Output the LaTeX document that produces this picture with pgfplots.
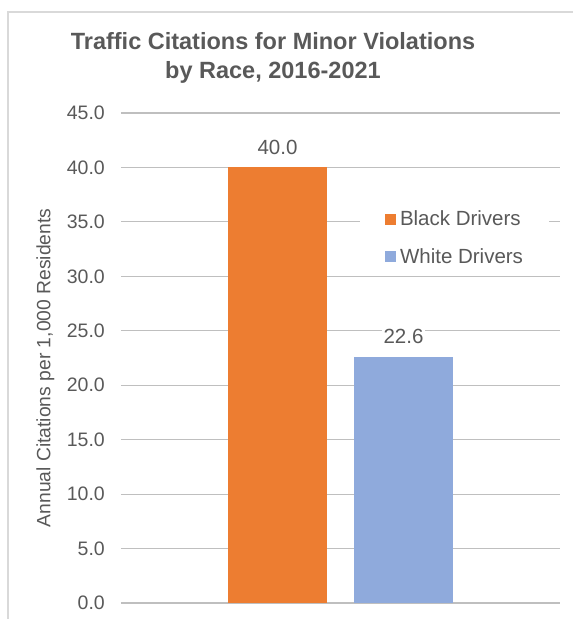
\documentclass[border=0pt]{standalone}
\usepackage{fontspec}
\setmainfont{Liberation Sans}
\usepackage{pgfplots}
\pgfplotsset{compat=1.18}
\definecolor{txt}{HTML}{595959}
\definecolor{grid}{HTML}{D9D9D9}
\definecolor{blackdr}{HTML}{ED7D31}
\definecolor{whitedr}{HTML}{8FAADC}
\begin{document}
\begin{tikzpicture}[x=1pt,y=1pt]
% page = reference image, 1pt per pixel; axis origin at pixel (121,603)
\useasboundingbox (-121,-16) rectangle (452,603);
\draw[grid, line width=1.2pt] (-113,-40) rectangle (470,591);
\begin{axis}[
  at={(0,0)}, anchor=south west,
  scale only axis,
  width=439pt, height=490pt,
  xmin=-1, xmax=1,
  ymin=0, ymax=45,
  ytick={0,5,...,45},
  xtick=\empty,
  axis line style={draw=none},
  ymajorgrids,
  grid style={grid, line width=1.2pt},
  major tick length=0pt,
  tick label style={font=\fontsize{19.5}{22}\selectfont, text=txt},
  yticklabel style={inner sep=0pt, xshift=-16pt,
    /pgf/number format/.cd, fixed, fixed zerofill, precision=1},
  /pgf/number format/assume math mode=true,
  ylabel={Annual Citations per 1,000 Residents},
  every axis y label/.style={at={(axis description cs:-0.172,0.48)},
    rotate=90, anchor=center,
    font=\fontsize{19.3}{22}\selectfont, text=txt},
  title={Traffic Citations for Minor Violations\\by Race, 2016-2021},
  title style={font=\bfseries\fontsize{23.5}{29}\selectfont, text=txt,
    align=center, at={(axis description cs:0.3462,1)}, anchor=north,
    inner sep=0pt, yshift=75pt},
  ybar=27pt,
  bar width=99pt,
  nodes near coords,
  nodes near coords style={font=\fontsize{20.5}{24}\selectfont, text=txt,
    fill=white, inner sep=2pt, anchor=south, yshift=11pt,
    /pgf/number format/.cd, fixed, fixed zerofill, precision=1,
    assume math mode=true},
  legend style={at={(axis description cs:0.544,0.815)}, anchor=north west,
    draw=none, fill=white, font=\fontsize{20.5}{24}\selectfont,
    text=txt, row sep=19pt, column sep=3pt, inner xsep=25pt, inner ysep=6pt,
    nodes={inner sep=1pt}},
  legend image code/.code={\fill[#1] (0pt,-5.5pt) rectangle (11pt,5.5pt);},
  legend cell align=left,
]
\addplot[fill=blackdr, draw=none] coordinates {(0,40.0)};
\addplot[fill=whitedr, draw=none] coordinates {(0,22.6)};
\legend{Black Drivers, White Drivers}
\end{axis}
\end{tikzpicture}
\end{document}
